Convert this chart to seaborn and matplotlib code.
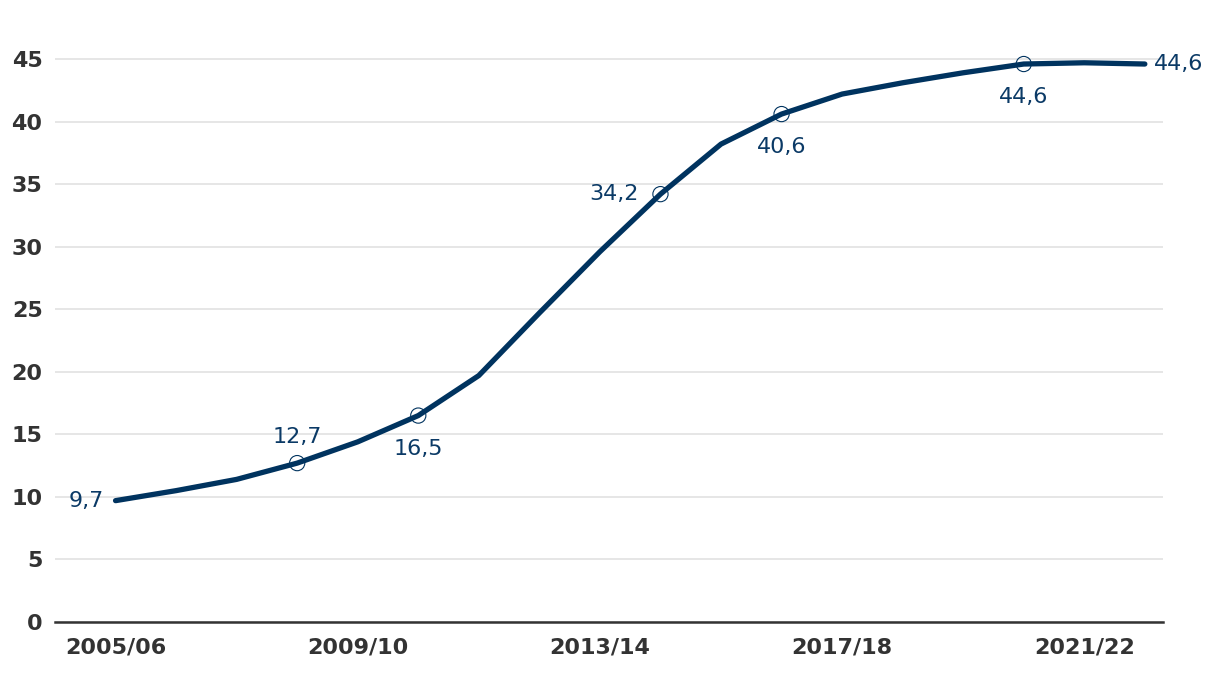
import matplotlib
matplotlib.use("Agg")
import matplotlib.pyplot as plt
import seaborn as sns
import pandas as pd

years = ["2005/06", "2006/07", "2007/08", "2008/09", "2009/10", "2010/11", "2011/12",
         "2012/13", "2013/14", "2014/15", "2015/16", "2016/17", "2017/18", "2018/19",
         "2019/20", "2020/21", "2021/22", "2022/23"]
values = [9.7, 10.5, 11.4, 12.7, 14.4, 16.5, 19.7, 24.7, 29.6, 34.2, 38.2, 40.6,
          42.2, 43.1, 43.9, 44.6, 44.7, 44.6]
tick_labels = ["2005/06", "2009/10", "2013/14", "2017/18", "2021/22"]
marker_idx = [3, 5, 9, 11, 15]
label_idx = [0, 3, 5, 9, 11, 15, 17]
label_pos = ["left", "above", "below", "left2", "below", "below", "right"]

LINE = "#00335f"
TXT = "#333333"
LBL = "#0b3a66"

sns.set_theme(style="white")
plt.rcParams['font.family'] = ['DejaVu Sans']

df = pd.DataFrame({"x": range(len(years)), "y": values})

fig = plt.figure(figsize=(12.2, 6.74), dpi=100)
ax = fig.add_axes([55/1220, 1-622/674, (1163-55)/1220, (622-34)/674])

sns.lineplot(data=df, x="x", y="y", ax=ax, color=LINE, linewidth=3.8, zorder=3)
ax.lines[0].set_solid_capstyle("round")
mdf = df.iloc[marker_idx]
ax.scatter(mdf["x"], mdf["y"], s=120, facecolors="none", edgecolors=LINE,
           linewidths=0.8, zorder=4)

offsets = {"left": (-8.5, 0, "right"), "left2": (-16, 0, "right"),
           "right": (6.5, 0, "left"), "above": (0, 18.5, "center"),
           "below": (0, -24, "center")}
for i, pos in zip(label_idx, label_pos):
    v = values[i]
    s = f"{v:.1f}".replace(".", ",")
    dx, dy, ha = offsets[pos]
    ax.annotate(s, (i, v), xytext=(dx, dy), textcoords="offset points",
                ha=ha, va="center", fontsize=16, color=LBL)

ax.set_xlim(-1.0, 17.3)
ax.set_ylim(0, 47)
ax.set_yticks(range(0, 50, 5))
ax.set_xticks([years.index(t) for t in tick_labels])
ax.set_xticklabels(tick_labels)
ax.set_xlabel("")
ax.set_ylabel("")
ax.tick_params(axis="both", length=0, labelsize=16, labelcolor=TXT)
for lab in ax.get_xticklabels() + ax.get_yticklabels():
    lab.set_fontweight("bold")
ax.tick_params(axis="y", pad=9)
ax.tick_params(axis="x", pad=11)
ax.grid(axis="y", color="#e2e2e2", linewidth=1.2)
ax.grid(axis="x", visible=False)
for sp in ["top", "right", "left"]:
    ax.spines[sp].set_visible(False)
ax.spines["bottom"].set_color(TXT)
ax.spines["bottom"].set_linewidth(1.8)
ax.set_axisbelow(True)

fig.savefig("out.png", dpi=100, facecolor="white")
